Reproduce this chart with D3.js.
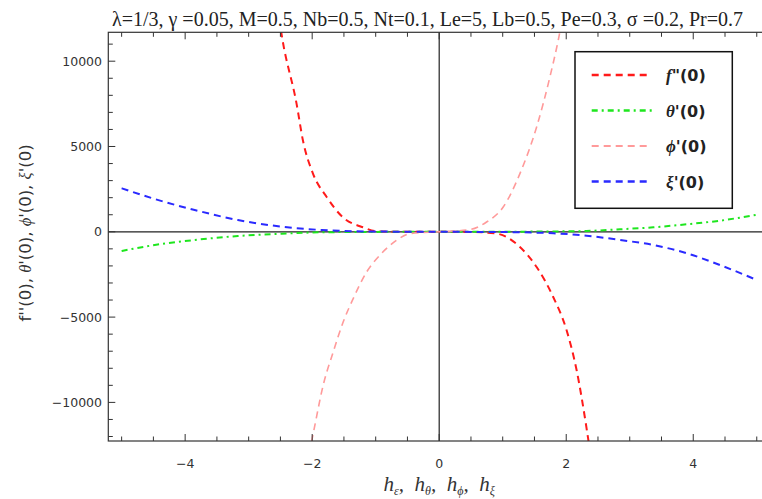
<!DOCTYPE html>
<html><head><meta charset="utf-8">
<script src="https://cdn.jsdelivr.net/npm/d3@7"></script>
<style>body{margin:0;background:#fff}svg{display:block}</style>
</head><body>
<script>
// ---- data ----
const fppX   = [-2.55,-2.466,-2.246,-2.146,-1.989,-1.769,-1.517,-1.202,-0.981,-0.6,0,0.5,0.904,1.271,1.534,1.795,2.006,2.164,2.321,2.38];
const fppY   = [13200,11225,7515,5363,3429,2022,850,264,29,3,0,-8,-106,-891,-2063,-3822,-5774,-8118,-11536,-13000];
const thetaX = [-5,-4.48,-3.85,-3.17,-2.48,-1.85,-1,0,1,1.8,2.32,2.85,3.37,3.9,4.42,5];
const thetaY = [-1125,-774,-481,-246,-111,-29,-5,0,5,20,47,147,264,440,651,1000];
const phiX   = [-2.05,-1.984,-1.827,-1.669,-1.512,-1.354,-1.143,-0.935,-0.671,-0.461,0,0.483,0.746,1.008,1.271,1.534,1.743,1.874,1.95];
const phiY   = [-13000,-11829,-8998,-7045,-5287,-3915,-2356,-1377,-498,-106,0,129,574,1454,3411,6143,9074,11225,12700];
const xiX    = [-5,-4.48,-3.85,-3.17,-2.48,-1.85,-1,0,1,1.8,2.32,2.85,3.37,3.9,4.42,5];
const xiY    = [2550,1923,1278,692,299,106,15,0,-15,-88,-229,-481,-774,-1260,-1946,-2825];
const xTicks = [-4,-2,0,2,4];
const yTicks = [-10000,-5000,0,5000,10000];
const titleText = "λ=1/3, γ =0.05, M=0.5, Nb=0.5, Nt=0.1, Le=5, Lb=0.5, Pe=0.3, σ =0.2, Pr=0.7";

const W = 762, H = 499;
const svg = d3.select("body").append("svg").attr("width", W).attr("height", H);

const L = 108.3, R = 770.1, T = 32.3, B = 441;
const x = d3.scaleLinear().domain([-5.21, 5.21]).range([L, R]);
const y = d3.scaleLinear().domain([-12263, 11694]).range([B, T]);

svg.append("clipPath").attr("id","clip").append("rect")
  .attr("x", L).attr("y", T).attr("width", R-L).attr("height", B-T);

// axes lines through origin
svg.append("line").attr("x1", L).attr("x2", R).attr("y1", y(0)).attr("y2", y(0))
  .attr("stroke","#222").attr("stroke-width",1.2);
svg.append("line").attr("x1", x(0)).attr("x2", x(0)).attr("y1", T).attr("y2", B)
  .attr("stroke","#222").attr("stroke-width",1.2);

// series
const series = [
  {xs: fppX, ys: fppY, color:"#ff1a1a", w:2, dash:"7,5"},
  {xs: thetaX, ys: thetaY, color:"#1ee61e", w:2, dash:"6,4,2,4"},
  {xs: phiX, ys: phiY, color:"#ff9a9a", w:1.6, dash:"7,5"},
  {xs: xiX, ys: xiY, color:"#2a2aff", w:2, dash:"7,5"}
];
const line = d3.line().x(d => x(d[0])).y(d => y(d[1])).curve(d3.curveMonotoneX);
const g = svg.append("g").attr("clip-path","url(#clip)");
series.forEach(s => {
  g.append("path").datum(s.xs.map((v,i)=>[v, s.ys[i]]))
    .attr("d", line).attr("fill","none").attr("stroke", s.color)
    .attr("stroke-width", s.w).attr("stroke-dasharray", s.dash);
});

// frame
svg.append("rect").attr("x", L).attr("y", T).attr("width", R-L).attr("height", B-T)
  .attr("fill","none").attr("stroke","#333").attr("stroke-width",1.2);

// ticks
const ft = svg.append("g").attr("stroke","#333").attr("stroke-width",1);
d3.range(-5, 5.01, 0.5).forEach(v => {
  const major = xTicks.includes(v), len = major ? 7 : 4.5;
  ft.append("line").attr("x1", x(v)).attr("x2", x(v)).attr("y1", B).attr("y2", B-len);
  ft.append("line").attr("x1", x(v)).attr("x2", x(v)).attr("y1", T).attr("y2", T+len);
});
d3.range(-12000, 11001, 1000).forEach(v => {
  const major = yTicks.includes(v), len = major ? 7 : 4.5;
  ft.append("line").attr("x1", L).attr("x2", L+len).attr("y1", y(v)).attr("y2", y(v));
});

const fmt = d3.format("d");
const lab = svg.append("g").attr("font-family","DejaVu Sans, sans-serif").attr("font-size",12.5).attr("fill","#333");
xTicks.forEach(v => lab.append("text").attr("x", x(v)).attr("y", 468).attr("text-anchor","middle").text(fmt(v)));
yTicks.forEach(v => lab.append("text").attr("x", 102).attr("y", y(v)+4.5).attr("text-anchor","end").text(fmt(v)));

// title
svg.append("text").attr("x", 112).attr("y", 26).attr("font-family","Liberation Serif, serif")
  .attr("font-size", 20).attr("fill","#222").text(titleText);

// y label
const yl = svg.append("text").attr("transform","translate(31,233) rotate(-90)")
  .attr("text-anchor","middle").attr("font-family","DejaVu Sans, sans-serif").attr("font-size",16.5).attr("fill","#333");
[["f''(0), ",false],["θ",true],["'(0), ",false],["ϕ",true],["'(0), ",false],["ξ",true],["'(0)",false]]
  .forEach(([t,it]) => yl.append("tspan").attr("font-style", it ? "italic":"normal")
    .attr("font-family", it ? "Liberation Serif, serif" : null).text(t));

// x label
const xl = svg.append("text").attr("x", x(0)).attr("y", 491).attr("text-anchor","middle")
  .attr("font-family","Liberation Serif, serif").attr("font-style","italic").attr("font-size",21).attr("fill","#333");
["ε","θ","ϕ","ξ"].forEach((sub,i) => {
  xl.append("tspan").attr("dy", i===0 ? 0 : -4).text((i===0 ? "" : ",\u00A0\u00A0") + "h");
  xl.append("tspan").attr("font-size",12).attr("dy",4).text(sub);
});

// legend
const lg = svg.append("g");
lg.append("rect").attr("x",575).attr("y",51.7).attr("width",157.3).attr("height",156.6)
  .attr("fill","#fff").attr("stroke","#111").attr("stroke-width",1.5);
const legItems = [["f", "\"(0)"],["θ","'(0)"],["ϕ","'(0)"],["ξ","'(0)"]];
const rowsY = [75, 110.5, 146, 181.5];
legItems.forEach((it,i) => {
  const s = series[i];
  lg.append("line").attr("x1",591.7).attr("x2",651.7).attr("y1",rowsY[i]).attr("y2",rowsY[i])
    .attr("stroke",s.color).attr("stroke-width",s.w+0.4).attr("stroke-dasharray",s.dash);
  const t = lg.append("text").attr("x",666).attr("y",rowsY[i]+6).attr("fill","#222").attr("font-size",17);
  t.append("tspan").attr("font-family","Liberation Serif, serif").attr("font-style","italic").attr("font-weight","bold").text(it[0]);
  t.append("tspan").attr("font-family","DejaVu Sans, sans-serif").attr("font-weight","bold").attr("font-size",16).text(it[1]);
});
</script>
</body></html>
